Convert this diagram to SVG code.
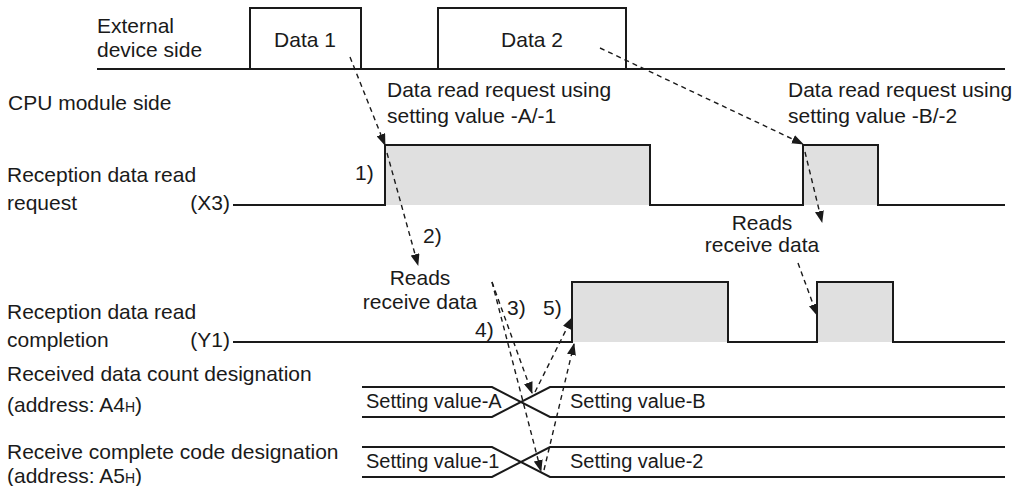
<svg xmlns="http://www.w3.org/2000/svg" width="1015" height="486" viewBox="0 0 1015 486">
<style>
text{font-family:"Liberation Sans",Arial,sans-serif;font-size:21px;fill:#1a1a1a}
.bv{font-size:20px}
.sub{font-size:14px}
.sig{fill:none;stroke:#1a1a1a;stroke-width:2}
.pulse{fill:#e0e0e0;stroke:none}
.box{fill:#fff;stroke:#1a1a1a;stroke-width:2}
.dash{fill:none;stroke:#1a1a1a;stroke-width:1.4;stroke-dasharray:5 4;marker-end:url(#ah)}
</style>
<defs>
<marker id="ah" markerUnits="userSpaceOnUse" markerWidth="12" markerHeight="9" refX="11" refY="4.5" orient="auto">
<path d="M0,0 L12,4.5 L0,9 z" fill="#1a1a1a"/>
</marker>
</defs>
<rect width="1015" height="486" fill="#fff"/>

<g id="external-side">
<text x="97" y="33">External</text>
<text x="97" y="57">device side</text>
<path class="sig" d="M97,69 H1005"/>
<g id="data1">
<rect class="box" x="250" y="8" width="111" height="61"/>
<text x="305" y="47" text-anchor="middle">Data 1</text>
</g>
<g id="data2">
<rect class="box" x="438" y="8" width="188" height="61"/>
<text x="532" y="47" text-anchor="middle">Data 2</text>
</g>
</g>

<g id="cpu-side">
<text x="8" y="110">CPU module side</text>
</g>

<g id="note-a">
<text x="387" y="97">Data read request using</text>
<text x="387" y="123">setting value -A/-1</text>
</g>
<g id="note-b">
<text x="788" y="97">Data read request using</text>
<text x="788" y="123">setting value -B/-2</text>
</g>

<g id="x3">
<text x="7" y="182">Reception data read</text>
<text x="7" y="210">request</text>
<text x="230" y="210" text-anchor="end">(X3)</text>
<rect class="pulse" x="385" y="145" width="265" height="60"/>
<rect class="pulse" x="803" y="145" width="75" height="60"/>
<path class="sig" d="M233,205 H385 V145 H650 V205 H803 V145 H878 V205 H1005"/>
</g>

<g id="y1">
<text x="7" y="319">Reception data read</text>
<text x="7" y="347">completion</text>
<text x="230" y="347" text-anchor="end">(Y1)</text>
<rect class="pulse" x="572" y="282" width="156" height="60"/>
<rect class="pulse" x="817" y="282" width="76" height="60"/>
<path class="sig" d="M233,342 H572 V282 H728 V342 H817 V282 H893 V342 H1005"/>
</g>

<g id="a4">
<text x="7" y="381">Received data count designation</text>
<text x="7" y="412">(address: A4<tspan class="sub">H</tspan>)</text>
<path class="sig" d="M362,387 H492 L550,417 H1005"/>
<path class="sig" d="M362,417 H492 L550,387 H1005"/>
<text class="bv" x="366" y="408">Setting value-A</text>
<text class="bv" x="570" y="408">Setting value-B</text>
</g>

<g id="a5">
<text x="7" y="459">Receive complete code designation</text>
<text x="7" y="483">(address: A5<tspan class="sub">H</tspan>)</text>
<path class="sig" d="M362,447 H492 L550,477 H1005"/>
<path class="sig" d="M362,477 H492 L550,447 H1005"/>
<text class="bv" x="366" y="468">Setting value-1</text>
<text class="bv" x="570" y="468">Setting value-2</text>
</g>

<g id="reads-1">
<text x="420" y="285" text-anchor="middle">Reads</text>
<text x="420" y="309" text-anchor="middle">receive data</text>
</g>
<g id="reads-2">
<text x="762" y="230" text-anchor="middle">Reads</text>
<text x="762" y="252" text-anchor="middle">receive data</text>
</g>

<g id="step-labels">
<text x="355" y="180">1)</text>
<text x="423" y="243">2)</text>
<text x="507" y="315">3)</text>
<text x="475" y="337">4)</text>
<text x="543" y="315">5)</text>
</g>

<g id="connectors">
<path class="dash" d="M350,57 L385,145"/>
<path class="dash" d="M387,153 L418,265"/>
<path class="dash" d="M600,48 L803,144"/>
<path class="dash" d="M805,152 L822,222"/>
<path class="dash" d="M798,263 L817,315"/>
<path class="dash" d="M492,282 L532,393"/>
<path class="dash" d="M492,282 L541,471"/>
<path class="dash" d="M535,392 L572,318"/>
<path class="dash" d="M544,470 L574,344"/>
</g>
</svg>
